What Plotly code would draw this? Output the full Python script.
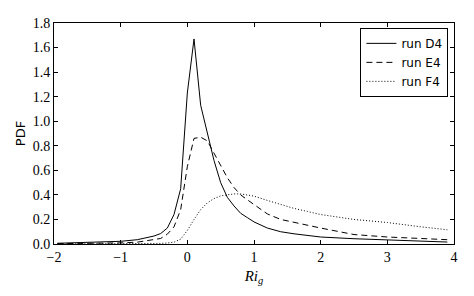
import plotly.graph_objects as go

ri = [-1.95, -1.5, -1.0, -0.75, -0.5, -0.4, -0.3, -0.2, -0.1, 0.0, 0.1, 0.2, 0.3, 0.4, 0.5,
      0.6, 0.7, 0.8, 0.9, 1.0, 1.2, 1.4, 1.6, 1.8, 2.0, 2.5, 3.0, 3.5, 3.9]

run_d4 = [0.006, 0.012, 0.022, 0.035, 0.065, 0.085, 0.13, 0.24, 0.45, 1.23, 1.67, 1.13, 0.90,
          0.68, 0.50, 0.38, 0.31, 0.25, 0.215, 0.18, 0.13, 0.10, 0.083, 0.068, 0.057, 0.043,
          0.034, 0.023, 0.016]

run_e4 = [0.003, 0.005, 0.009, 0.015, 0.033, 0.045, 0.08, 0.14, 0.28, 0.63, 0.86, 0.87, 0.84,
          0.74, 0.63, 0.54, 0.46, 0.40, 0.36, 0.32, 0.245, 0.20, 0.175, 0.15, 0.13, 0.077,
          0.057, 0.045, 0.035]

run_f4 = [0.001, 0.001, 0.002, 0.003, 0.004, 0.005, 0.008, 0.015, 0.04, 0.11, 0.20, 0.28, 0.335,
          0.37, 0.392, 0.403, 0.408, 0.408, 0.40, 0.39, 0.355, 0.32, 0.29, 0.265, 0.24, 0.20,
          0.175, 0.14, 0.116]

x_ticks = [-2, -1, 0, 1, 2, 3, 4]
y_ticks = [0.0, 0.2, 0.4, 0.6, 0.8, 1.0, 1.2, 1.4, 1.6, 1.8]

SERIF = "Liberation Serif, serif"

fig = go.Figure()
fig.add_trace(go.Scatter(x=ri, y=run_d4, mode="lines", name="run D4",
                         line=dict(color="black", width=1)))
fig.add_trace(go.Scatter(x=ri, y=run_e4, mode="lines", name="run E4",
                         line=dict(color="black", width=1, dash="6px,4px")))
fig.add_trace(go.Scatter(x=ri, y=run_f4, mode="lines", name="run F4",
                         line=dict(color="black", width=1, dash="1px,2px")))

axis_common = dict(showline=True, linecolor="black", linewidth=1, mirror="ticks",
                   ticks="inside", ticklen=4, tickcolor="black", showgrid=False,
                   zeroline=False, automargin=False,
                   tickfont=dict(family=SERIF, size=14, color="black"))

fig.update_layout(
    width=474, height=296,
    margin=dict(l=54, r=20, t=23, b=52),
    paper_bgcolor="white", plot_bgcolor="white",
    font=dict(family=SERIF),
    xaxis=dict(range=[-2, 4], tickvals=x_ticks,
               ticktext=[("\u2212" + str(-v)) if v < 0 else str(v) for v in x_ticks],
               title=dict(text="<i>Ri</i><sub><i>g</i></sub>", standoff=6,
                          font=dict(family=SERIF, size=15, color="black")),
               **axis_common),
    yaxis=dict(range=[0, 1.8], tickvals=y_ticks,
               ticktext=["%.1f" % v for v in y_ticks],
               title=dict(text="PDF", standoff=4,
                          font=dict(family="DejaVu Sans", size=13, color="black")),
               **axis_common),
    legend=dict(x=0.986, y=0.978, xanchor="right", yanchor="top",
                bordercolor="black", borderwidth=1, bgcolor="white",
                font=dict(family="DejaVu Sans", size=12, color="black"),
                tracegroupgap=0),
    showlegend=True,
)

fig.write_html("out.html", config={"displayModeBar": False},
               post_script="document.body.style.margin='0';")
